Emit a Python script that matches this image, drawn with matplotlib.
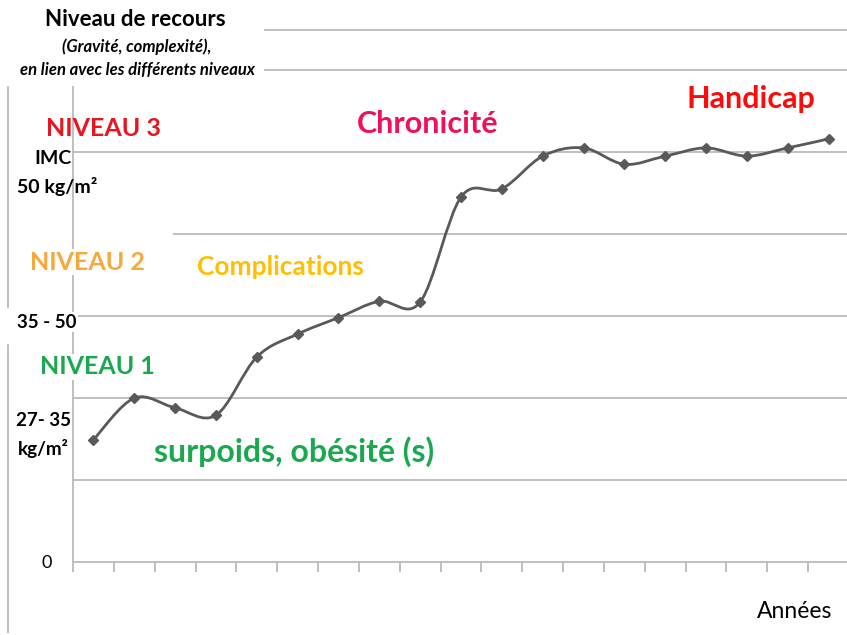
import numpy as np
import matplotlib
matplotlib.use("Agg")
import matplotlib.pyplot as plt
from matplotlib.path import Path
from matplotlib.patches import PathPatch
from matplotlib.lines import Line2D

plt.rcParams['font.family'] = ['Lato', 'DejaVu Sans']

# données (axe des années sans libellés)
annees = np.arange(19)
niveau = [14.9, 20.0, 18.8, 17.9, 25.0, 27.8, 29.8, 31.8, 31.7, 44.5,
          45.5, 49.5, 50.5, 48.5, 49.5, 50.5, 49.5, 50.5, 51.6]
grille = [10, 20, 30, 40, 50, 60]

W, H = 847, 635
fig = plt.figure(figsize=(W / 100, H / 100), dpi=100)

def px(x, y):
    return x / W, 1 - y / H

# zone du graphique : x 73 -> 849 px, y 562 -> 30 px
ax = fig.add_axes([73 / W, (H - 562) / H, (849 - 73) / W, (562 - 30) / H])
ax.set_xlim(0, 19)
ax.set_ylim(0, (562 - 30) / 8.2)

gris = '#bfbfbf'
# lignes horizontales (certaines commencent plus à droite)
debut = {10: 0, 20: 0, 30: 0, 40: (173 - 73) / 41, 50: 0, 60: (265 - 73) / 41}
for g in grille:
    ax.hlines(g, debut[g], 19, color=gris, lw=1.4, zorder=1)
ax.hlines(ax.get_ylim()[1] - 0.05, (265 - 73) / 41, 19, color=gris, lw=1.4, zorder=1, clip_on=False)

for s in ['top', 'right']:
    ax.spines[s].set_visible(False)
ax.spines['left'].set_color(gris)
ax.spines['left'].set_linewidth(1.4)
ax.spines['left'].set_bounds(0, (562 - 87) / 8.2)
ax.spines['bottom'].set_color(gris)
ax.spines['bottom'].set_linewidth(1.4)
ax.set_xticks(np.arange(0, 20))
ax.set_xticklabels([])
ax.set_yticks([])
ax.tick_params(axis='x', length=7, width=1.4, color=gris, direction='out')

# courbe lissée (Bézier façon Excel) passant par les points
xs = annees + 0.5
ys = np.array(niveau)
pts = np.column_stack([xs, ys])
verts = [pts[0]]
codes = [Path.MOVETO]
for i in range(len(pts) - 1):
    p0 = pts[max(i - 1, 0)]
    p1 = pts[i]
    p2 = pts[i + 1]
    p3 = pts[min(i + 2, len(pts) - 1)]
    c1 = p1 + (p2 - p0) / 6
    c2 = p2 - (p3 - p1) / 6
    verts += [c1, c2, p2]
    codes += [Path.CURVE4] * 3
ax.add_patch(PathPatch(Path(verts, codes), fill=False, edgecolor='#595959', lw=2, zorder=4))
ax.plot(xs, ys, 'D', color='#595959', markersize=5, zorder=5)

# trait vertical extérieur à gauche
fig.add_artist(Line2D([8 / W, 8 / W], [1 - 87 / H, 1 - 307 / H], color=gris, lw=1.4))
fig.add_artist(Line2D([8 / W, 8 / W], [1 - 345 / H, 1 - 632 / H], color=gris, lw=1.4))

blanc = dict(facecolor='white', edgecolor='none', pad=1)

def txt(x, y, s, size, color='black', weight='bold', style='normal', box=False):
    fig.text(*px(x, y), s, ha='center', va='center', fontsize=size, color=color,
             fontweight=weight, fontstyle=style, zorder=6,
             bbox=blanc if box else None)

txt(135, 20, 'Niveau de recours', 16)
txt(137, 47, '(Gravité, complexité),', 12, style='italic')
txt(137, 70, 'en lien avec les différents niveaux', 12, style='italic')

txt(103, 128, 'NIVEAU 3', 18, color='#e8141e')
txt(53, 158, 'IMC', 14)
txt(57, 187, '50 kg/m²', 14)
txt(87, 262, 'NIVEAU 2', 18, color='#f6a83c', box=True)
txt(47, 322, '35 - 50', 13.5, box=True)
txt(97, 367, 'NIVEAU 1', 18, color='#1aa84f', box=True)
txt(43, 420, '27- 35', 13.5)
txt(43, 448, 'kg/m²', 13.5)
txt(47, 563, '0', 13, weight='normal')

txt(280, 267, 'Complications', 19, color='#ffbf00')
txt(428, 124, 'Chronicité', 22, color='#f0105a')
txt(751, 99, 'Handicap', 22, color='#ff0a0a')
txt(294, 452, 'surpoids, obésité (s)', 23, color='#1aa84f')
txt(795, 612, 'Années', 16.5, weight='normal')

fig.savefig('out.png', dpi=100)
